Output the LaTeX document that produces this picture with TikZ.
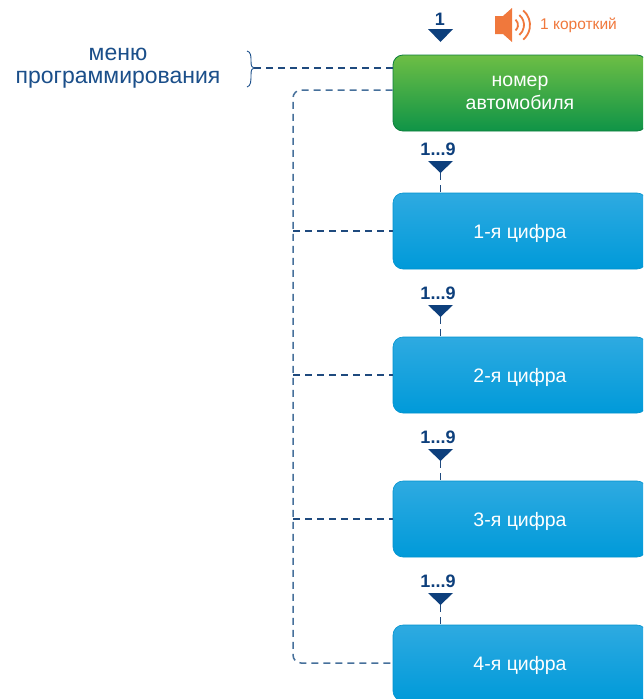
\documentclass[tikz,border=0pt]{standalone}
\usepackage{fontspec}
\setmainfont{Liberation Sans}
\usetikzlibrary{calc}
\definecolor{gTop}{HTML}{6DBE45}
\definecolor{gBot}{HTML}{0F9447}
\definecolor{bTop}{HTML}{2EAAE1}
\definecolor{bBot}{HTML}{009AD9}
\definecolor{navy}{HTML}{0D3F7C}
\definecolor{menublue}{HTML}{1B4F8A}
\definecolor{dline}{HTML}{1F4A7E}
\definecolor{lline}{HTML}{46709B}
\definecolor{orng}{HTML}{F0783C}
\begin{document}
\begin{tikzpicture}[x=1pt,y=-1pt,
  box/.style={rounded corners=10pt, minimum width=254pt, minimum height=76pt,
    text=white, font=\fontsize{19.5}{23}\selectfont, align=center, inner sep=0pt, text depth=0pt},
  gbox/.style={box, top color=gTop, middle color=gBot, bottom color=gBot, draw=gBot!85!black, line width=0.8pt},
  bbox/.style={box, top color=bTop, middle color=bBot, bottom color=bBot, draw=bBot!95!black, line width=0.6pt},
  dashline/.style={dline, line width=1.4pt, dash pattern=on 7pt off 5pt},
  loopline/.style={lline, line width=1.5pt, dash pattern=on 7pt off 5pt, rounded corners=8pt},
  marker/.style={fill=navy},
  numlabel/.style={text=navy, font=\bfseries\fontsize{18}{20}\selectfont, inner sep=0pt},
]
\clip (0,0) rectangle (643,699);
\fill[white] (0,0) rectangle (643,699);

% boxes
\node[gbox] (g) at (520,93) {номер\\автомобиля};
\node[bbox] (d1) at (520,231) {1-я цифра};
\node[bbox] (d2) at (520,375) {2-я цифра};
\node[bbox] (d3) at (520,519) {3-я цифра};
\node[bbox] (d4) at (520,663) {4-я цифра};

% menu label and brace
\node[text=menublue, font=\fontsize{23}{23}\selectfont, align=center, inner sep=0pt, anchor=base] (menu) at (118,83) {меню\\программирования};
\coordinate (br) at (254,68);
\draw[menublue, line width=0.9pt] (247,51) .. controls (251,52) and (251,56) .. (251,61)
  .. controls (251,66) and (252,68) .. (br)
  .. controls (252,68) and (251,70) .. (251,75)
  .. controls (251,81) and (251,86) .. (247,87);
\draw[dashline] (br) -- (br -| g.west);

% loop rail and branches
\coordinate (rail) at (293,0);
\draw[loopline] ([yshift=3pt]g.west) -| (rail |- d4.west) -- (d4.west);
\draw[dashline] (rail |- d1.west) -- (d1.west);
\draw[dashline] (rail |- d2.west) -- (d2.west);
\draw[dashline] (rail |- d3.west) -- (d3.west);

% first marker
\fill[marker] (428,29) -- (453,29) -- (440.5,42) coordinate (t0) -- cycle;
\node[numlabel] (l0) at (440,19) {1};

% digit markers
\foreach \i/\T in {1/161,2/305,3/449,4/593}{
  \fill[marker] (428,\T) -- (453,\T) -- (440.5,\T+12) coordinate (t\i) -- cycle;
  \node[numlabel] (l\i) at (438,\T-12) {1...9};
}
\draw[dashline] (t1) -- (t1 |- d1.north);
\draw[dashline] (t2) -- (t2 |- d2.north);
\draw[dashline] (t3) -- (t3 |- d3.north);
\draw[dashline] (t4) -- (t4 |- d4.north);

% speaker
\fill[orng] (495,16) -- (503,16) -- (512,8) -- (512,42) -- (503,34) -- (495,34) -- cycle;
\coordinate (spk) at (511,25);
\foreach \r in {7,13,19}{
  \draw[orng, line width=1.8pt] ($(spk)+(-50:\r)$) arc[start angle=-50, end angle=50, radius=\r];
}
\node[text=orng, font=\fontsize{15.5}{17}\selectfont, anchor=west, inner sep=0pt] (beep) at (540,25) {1 короткий};
\end{tikzpicture}
\end{document}
